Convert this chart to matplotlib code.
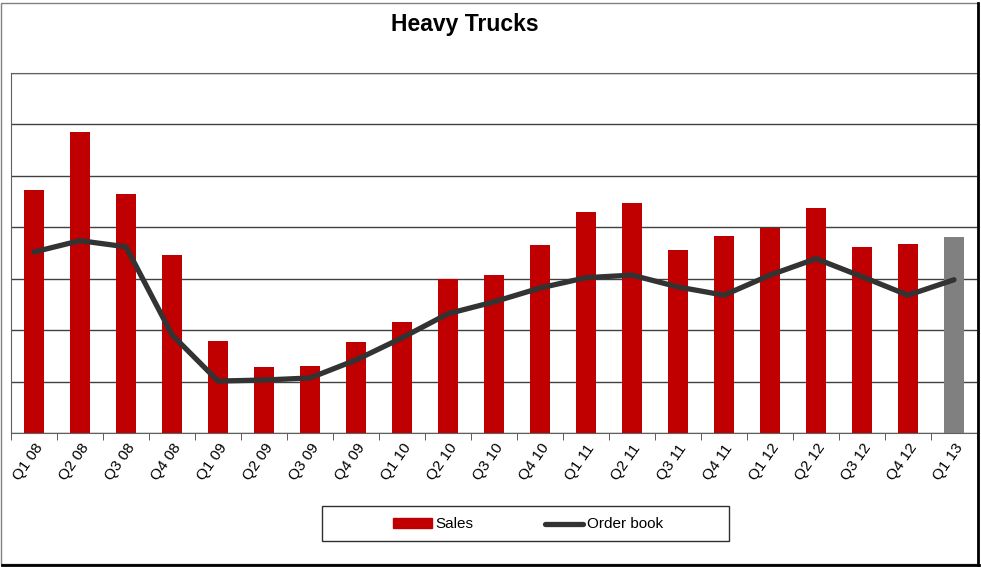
import matplotlib
matplotlib.use("Agg")
import matplotlib.pyplot as plt
from matplotlib.patches import Rectangle
from matplotlib.lines import Line2D
import numpy as np

plt.rcParams['font.family'] = ['Liberation Sans', 'DejaVu Sans']

# Quarter labels
quarters = ["Q1 08", "Q2 08", "Q3 08", "Q4 08", "Q1 09", "Q2 09", "Q3 09",
            "Q4 09", "Q1 10", "Q2 10", "Q3 10", "Q4 10", "Q1 11", "Q2 11",
            "Q3 11", "Q4 11", "Q1 12", "Q2 12", "Q3 12", "Q4 12", "Q1 13"]

# Values in gridline units (no y scale is shown in the chart)
sales = [4.73, 5.86, 4.65, 3.46, 1.79, 1.28, 1.30, 1.77, 2.16, 3.00, 3.07,
         3.66, 4.30, 4.47, 3.56, 3.83, 3.99, 4.38, 3.62, 3.68, 3.81]
order_book = [3.52, 3.74, 3.62, 1.91, 1.01, 1.03, 1.07, 1.42, 1.85, 2.32, 2.55,
              2.82, 3.02, 3.07, 2.84, 2.68, 3.07, 3.39, 3.04, 2.68, 2.98]

bar_colors = ["#C00000"] * (len(quarters) - 1) + ["#808080"]
line_color = "#333333"

W, H = 981, 567
fig = plt.figure(figsize=(W / 100, H / 100), dpi=100)
ax = fig.add_axes([11 / W, 1 - 433 / H, 966 / W, 360 / H])

x = np.arange(len(quarters))
ax.bar(x, sales, width=0.43, color=bar_colors, zorder=2)
ax.plot(x, order_book, color=line_color, lw=3.8, solid_capstyle="round",
        solid_joinstyle="round", zorder=3)

ax.set_xlim(-0.5, len(quarters) - 0.5)
ax.set_ylim(0, 7)
ax.set_yticks(np.arange(0, 8))
ax.set_yticklabels([])
ax.tick_params(axis="y", length=0)
ax.grid(axis="y", color="#404040", lw=1.0, zorder=1)

ax.set_xticks(x)
ax.set_xticklabels(quarters, rotation=55, ha="right", va="top",
                   rotation_mode="anchor", fontsize=11)
ax.tick_params(axis="x", length=0, pad=6)
ax.set_xticks(np.arange(-0.5, len(quarters), 1), minor=True)
ax.tick_params(axis="x", which="minor", length=5, color="#404040", direction="out")

for side in ["left", "bottom", "top", "right"]:
    ax.spines[side].set_color("#606060")
ax.spines["right"].set_visible(False)

fig.text(465 / W, 1 - 24 / H, "Heavy Trucks", ha="center", va="center",
         fontsize=16.5, fontweight="bold")

# legend box drawn by hand to match the wide frame
fig.patches.append(Rectangle((322 / W, 1 - 541 / H), 407 / W, 35 / H,
                             transform=fig.transFigure, fill=False,
                             edgecolor="#303030", lw=1.0))
fig.patches.append(Rectangle((393 / W, 1 - 528 / H), 39 / W, 10 / H,
                             transform=fig.transFigure, color="#C00000"))
fig.text(435 / W, 1 - 523.5 / H, "Sales", ha="left", va="center", fontsize=11)
fig.lines.append(Line2D([545 / W, 583 / W], [1 - 524 / H, 1 - 524 / H],
                        transform=fig.transFigure, color=line_color, lw=3.8,
                        solid_capstyle="round"))
fig.text(587 / W, 1 - 523.5 / H, "Order book", ha="left", va="center", fontsize=11)

# outer chart frame
fig.patches.append(Rectangle((0.5 / W, 1 - 564 / H), 977 / W, 561 / H,
                             transform=fig.transFigure, fill=False,
                             edgecolor="#808080", lw=1.0))
fig.lines.append(Line2D([978 / W, 978 / W], [1 - 565 / H, 1 - 3 / H],
                        transform=fig.transFigure, color="black", lw=2.0))
fig.lines.append(Line2D([2 / W, 979 / W], [1 - 565 / H, 1 - 565 / H],
                        transform=fig.transFigure, color="black", lw=2.0))

fig.savefig("out.png", dpi=100)
